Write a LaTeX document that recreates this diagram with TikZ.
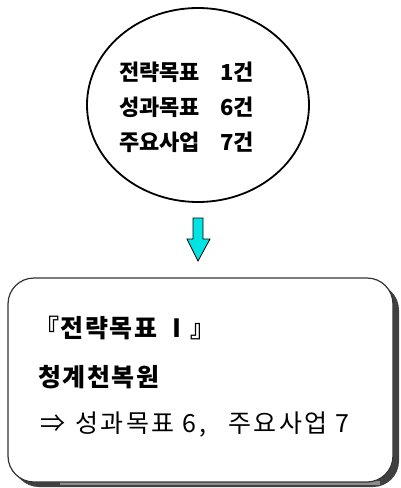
\documentclass[tikz,border=0pt]{standalone}
\usepackage{fontspec}
\setmainfont{Noto Sans CJK KR}
\usetikzlibrary{shapes.geometric}
\definecolor{arrowcyan}{RGB}{0,228,228}
\begin{document}
\begin{tikzpicture}[x=1pt,y=-1pt,
  ring/.style={draw,line width=1.8pt,ellipse,minimum width=222pt,minimum height=194pt,inner sep=0pt},
  line1/.style={font=\fontsize{22}{22}\selectfont\bfseries,anchor=west,inner sep=0pt},
  bline/.style={font=\fontsize{25}{25}\selectfont\bfseries\addfontfeatures{LetterSpace=6},anchor=west,inner sep=0pt},
  rline/.style={font=\fontsize{25}{25}\selectfont\addfontfeatures{LetterSpace=10},anchor=west,inner sep=0pt}]
\useasboundingbox (0,0) rectangle (401,488);
\node[ring] (c) at (198,105) {};
\node[line1] (t1) at (119,72) {전략목표\hspace{20pt}1건};
\node[line1] (t2) at (119,107) {성과목표\hspace{20pt}6건};
\node[line1] (t3) at (119,142) {주요사업\hspace{20pt}7건};
% arrow
\filldraw[fill=arrowcyan,draw=black,line width=0.8pt]
  (193,218) -- (203,218) -- (203,239) -- (210,239) -- (198,261) -- (187,239) -- (193,239) -- cycle;
% box with shadow
\fill[black!75] (13,284) [rounded corners=26pt] rectangle (399,487);
\fill[black!45] (60,481) rectangle (380,485);
\draw[black!80,fill=white,line width=1.2pt,rounded corners=26pt] (8,278) rectangle (393,482);
\node[bline] (b1) at (34,328) {『전략목표 Ⅰ』};
\node[bline] (b2) at (38,377) {청계천복원};
\node[rline] (b3) at (40,425) {⇒\kern10pt 성과목표 6,\kern22pt 주요사업 7};
\end{tikzpicture}
\end{document}
